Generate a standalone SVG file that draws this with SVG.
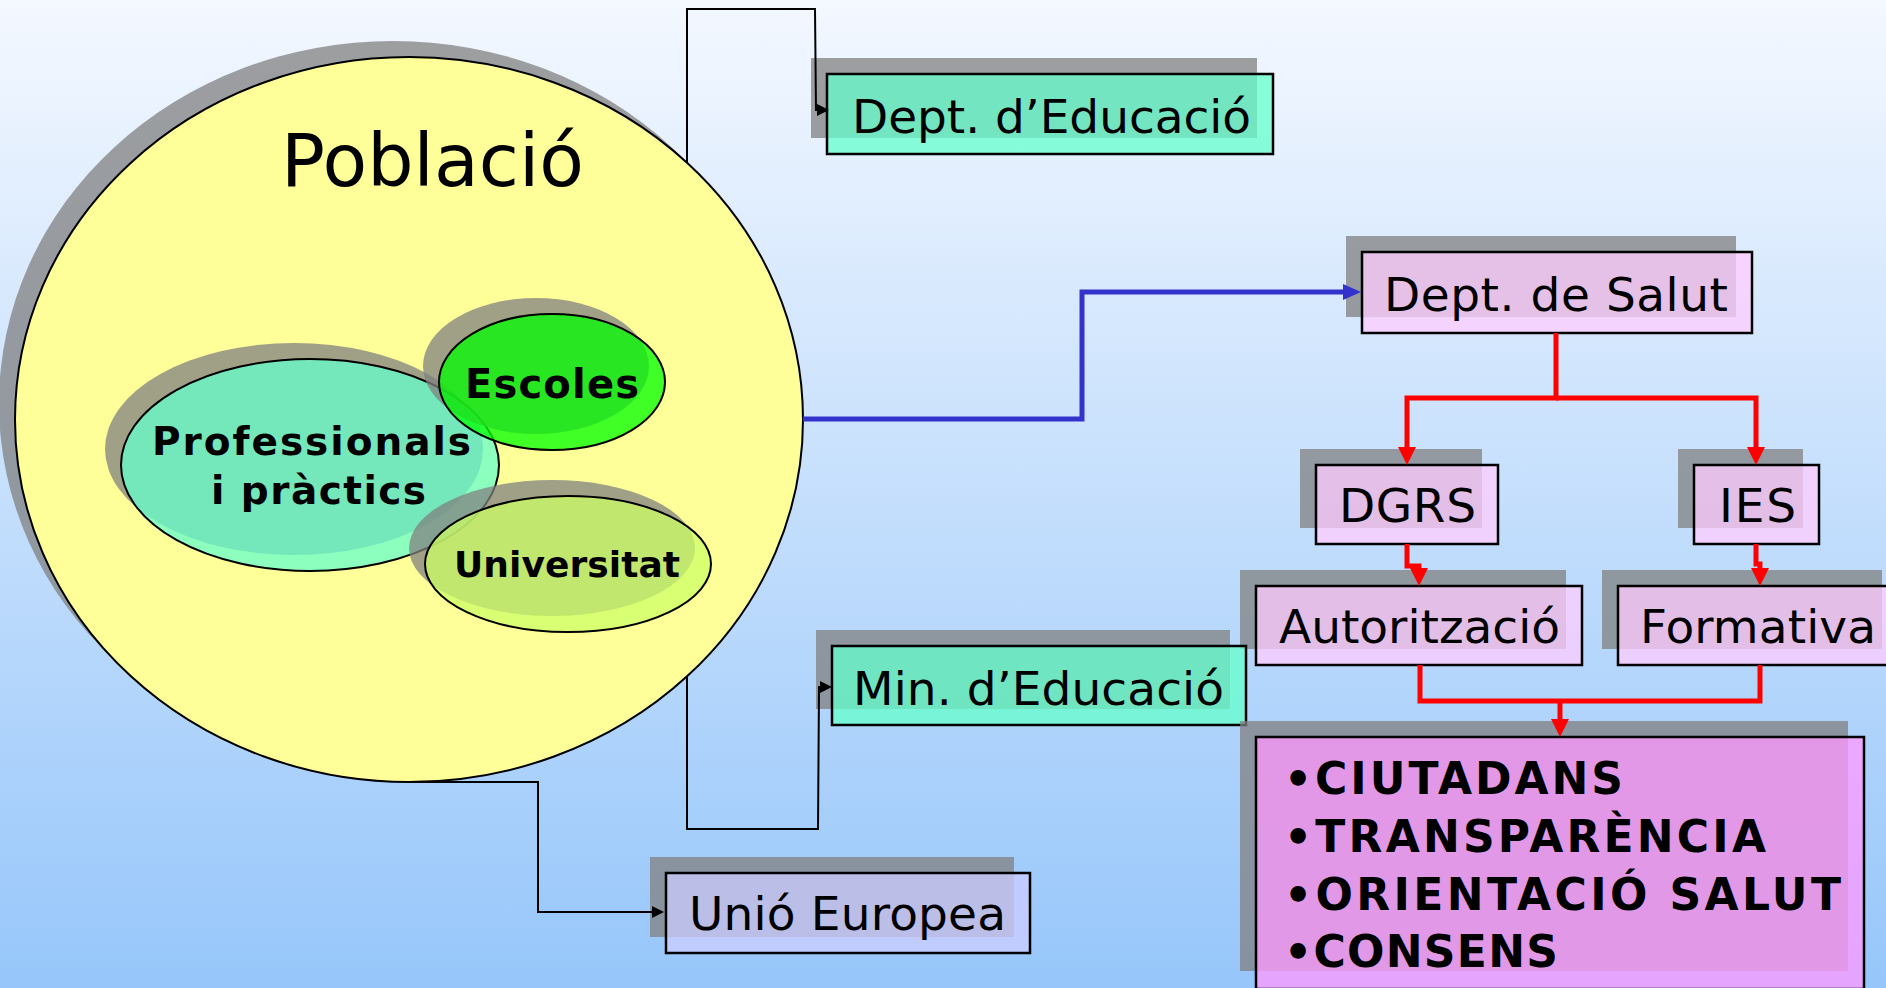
<svg xmlns="http://www.w3.org/2000/svg" width="1886" height="988" viewBox="0 0 1886 988">
<defs>
<linearGradient id="bgG" x1="0" y1="0" x2="0" y2="1">
<stop offset="0" stop-color="#f4f8ff"/>
<stop offset="1" stop-color="#96c6fa"/>
</linearGradient>
<marker id="arrK" viewBox="0 0 12 12" refX="0" refY="6" markerWidth="12" markerHeight="12" orient="auto" markerUnits="userSpaceOnUse"><path d="M0,0 L12,6 L0,12 z" fill="#000"/></marker>
<marker id="arrB" viewBox="0 0 18 16" refX="0" refY="8" markerWidth="18" markerHeight="16" orient="auto" markerUnits="userSpaceOnUse"><path d="M0,0 L18,8 L0,16 z" fill="#3333cc"/></marker>
<marker id="arrR" viewBox="0 0 18 18" refX="0" refY="9" markerWidth="18" markerHeight="18" orient="auto" markerUnits="userSpaceOnUse"><path d="M0,0 L18,9 L0,18 z" fill="#ff0000"/></marker>
<style>
.sh{fill:#808080;fill-opacity:.75}
.bx{stroke:#000;stroke-width:2.5}
.el{stroke:#000;stroke-width:2}
.teal{fill:#66ffcc;fill-opacity:.75}
.pink{fill:#ffccff;fill-opacity:.75}
.mag{fill:#ff99ff;fill-opacity:.75}
.lav{fill:#ccccff;fill-opacity:.75}
.t{font-family:"DejaVu Sans",Verdana,sans-serif;font-size:47px;fill:#000}
.b{font-family:"DejaVu Sans",Verdana,sans-serif;font-weight:bold;fill:#000}
.k{fill:none;stroke:#000;stroke-width:2}
.bl{fill:none;stroke:#3333cc;stroke-width:5}
.rd{fill:none;stroke:#ff0000;stroke-width:5}
</style>
</defs>
<rect x="0" y="0" width="1886" height="988" fill="url(#bgG)"/>

<g id="poblacio">
<ellipse cx="393" cy="403.5" rx="394" ry="362.5" class="sh"/>
<ellipse cx="409" cy="419.5" rx="394" ry="362.5" fill="#ffff99" class="el"/>
<text x="281" y="186" class="t" style="font-size:73px" textLength="303">Població</text>
</g>

<g id="professionals">
<ellipse cx="294" cy="449" rx="189" ry="106" class="sh"/>
<ellipse cx="310" cy="465" rx="189" ry="106" fill="#66ffcc" fill-opacity=".75" class="el"/>
<text x="152" y="455" class="b" style="font-size:39px" textLength="319">Professionals</text>
<text x="211" y="504" class="b" style="font-size:39px" textLength="215">i pràctics</text>
</g>

<g id="escoles">
<ellipse cx="536" cy="366" rx="113" ry="68" class="sh"/>
<ellipse cx="552" cy="382" rx="113" ry="68" fill="#00ff00" fill-opacity=".75" class="el"/>
<text x="465" y="398" class="b" style="font-size:40px" textLength="174">Escoles</text>
</g>

<g id="universitat">
<ellipse cx="552" cy="548" rx="143" ry="68" class="sh"/>
<ellipse cx="568" cy="564" rx="143" ry="68" fill="#ccff66" fill-opacity=".75" class="el"/>
<text x="454" y="577" class="b" style="font-size:36px" textLength="226">Universitat</text>
</g>

<g id="dept-educacio">
<rect x="811" y="58" width="446" height="80" class="sh"/>
<rect x="827" y="74" width="446" height="80" class="teal bx"/>
<text x="852" y="133" class="t" textLength="399">Dept. d’Educació</text>
</g>

<g id="dept-salut">
<rect x="1346" y="236" width="390" height="81" class="sh"/>
<rect x="1362" y="252" width="390" height="81" class="pink bx"/>
<text x="1384" y="311" class="t" textLength="344">Dept. de Salut</text>
</g>

<g id="dgrs">
<rect x="1300" y="449" width="182" height="79" class="sh"/>
<rect x="1316" y="465" width="182" height="79" class="pink bx"/>
<text x="1339" y="522" class="t" textLength="137">DGRS</text>
</g>

<g id="ies">
<rect x="1678" y="449" width="125" height="79" class="sh"/>
<rect x="1694" y="465" width="125" height="79" class="pink bx"/>
<text x="1719" y="522" class="t" textLength="77">IES</text>
</g>

<g id="autoritzacio">
<rect x="1240" y="570" width="326" height="79" class="sh"/>
<rect x="1256" y="586" width="326" height="79" class="pink bx"/>
<text x="1279" y="643" class="t" textLength="281">Autorització</text>
</g>

<g id="formativa">
<rect x="1602" y="570" width="280" height="79" class="sh"/>
<rect x="1618" y="586" width="280" height="79" class="pink bx"/>
<text x="1640" y="643" class="t" textLength="236">Formativa</text>
</g>

<g id="min-educacio">
<rect x="816" y="630" width="414" height="79" class="sh"/>
<rect x="832" y="646" width="414" height="79" class="teal bx"/>
<text x="853" y="705" class="t" textLength="371">Min. d’Educació</text>
</g>

<g id="unio-europea">
<rect x="650" y="857" width="364" height="80" class="sh"/>
<rect x="666" y="873" width="364" height="80" class="lav bx"/>
<text x="689" y="930" class="t" textLength="317">Unió Europea</text>
</g>

<g id="principis">
<rect x="1240" y="721" width="608" height="250" class="sh"/>
<rect x="1256" y="737" width="608" height="252" class="mag bx"/>
<g class="b" style="font-size:44px">
<text x="1284" y="794" textLength="339">•CIUTADANS</text>
<text x="1284" y="852" textLength="482">•TRANSPARÈNCIA</text>
<text x="1284" y="910" textLength="557">•ORIENTACIÓ SALUT</text>
<text x="1284" y="967" textLength="274">•CONSENS</text>
</g>
</g>

<g id="connectors">
<path d="M687,162 V9 H815 L816,110 H817" class="k" marker-end="url(#arrK)"/>
<path d="M687,676 V829 H818 L819,687 H820" class="k" marker-end="url(#arrK)"/>
<path d="M409,782 H538 V912 H652" class="k" marker-end="url(#arrK)"/>
<path d="M803,419 H1082 V292 H1343" class="bl" marker-end="url(#arrB)"/>
<path d="M1556,333 V398 H1407 V447" class="rd" marker-end="url(#arrR)"/>
<path d="M1556,398 H1756 V447" class="rd" marker-end="url(#arrR)"/>
<path d="M1407,544 V566 H1419 V568" class="rd" marker-end="url(#arrR)"/>
<path d="M1756,544 V564 H1760 V568" class="rd" marker-end="url(#arrR)"/>
<path d="M1420,665 V701 H1760 V665" class="rd"/>
<path d="M1560,701 V719" class="rd" marker-end="url(#arrR)"/>
</g>
</svg>
